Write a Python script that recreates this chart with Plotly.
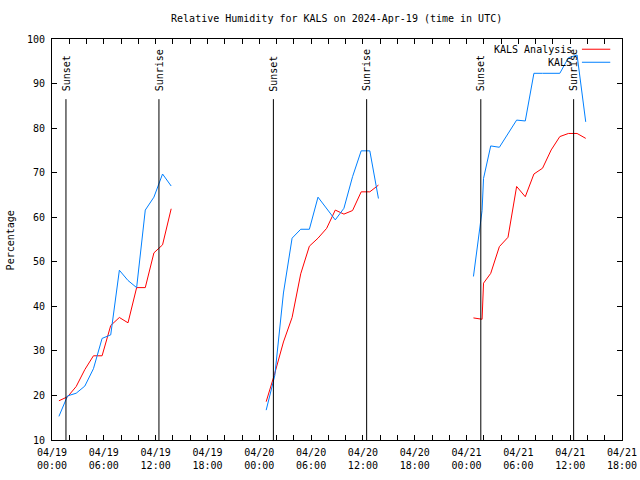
import plotly.graph_objects as go

# ---------------- data ----------------
times_day1 = ["2024-04-19 00:48", "2024-04-19 01:48", "2024-04-19 02:48", "2024-04-19 03:48",
              "2024-04-19 04:48", "2024-04-19 05:48", "2024-04-19 06:48", "2024-04-19 07:48",
              "2024-04-19 08:48", "2024-04-19 09:48", "2024-04-19 10:48", "2024-04-19 11:48",
              "2024-04-19 12:48", "2024-04-19 13:48"]
times_day2 = ["2024-04-20 00:48", "2024-04-20 01:48", "2024-04-20 02:48", "2024-04-20 03:48",
              "2024-04-20 04:48", "2024-04-20 05:48", "2024-04-20 06:48", "2024-04-20 07:48",
              "2024-04-20 08:48", "2024-04-20 09:48", "2024-04-20 10:48", "2024-04-20 11:48",
              "2024-04-20 12:48", "2024-04-20 13:48"]
times_day3 = ["2024-04-21 00:48", "2024-04-21 01:48", "2024-04-21 01:58", "2024-04-21 02:48",
              "2024-04-21 03:48", "2024-04-21 04:48", "2024-04-21 05:48", "2024-04-21 06:48",
              "2024-04-21 07:48", "2024-04-21 08:48", "2024-04-21 09:48", "2024-04-21 10:48",
              "2024-04-21 11:48", "2024-04-21 12:48", "2024-04-21 13:48"]

analysis_day1 = [18.8, 19.7, 22.0, 25.8, 28.9, 28.9, 35.7, 37.5, 36.3, 44.2, 44.2, 52.0, 53.8, 61.9]
analysis_day2 = [18.6, 25.0, 32.0, 37.5, 47.3, 53.5, 55.3, 57.5, 61.6, 60.7, 61.5, 65.7, 65.7, 67.2]
analysis_day3 = [37.4, 37.1, 45.2, 47.4, 53.4, 55.5, 66.9, 64.6, 69.7, 71.0, 75.1, 78.1, 78.8, 78.8, 77.7]

obs_day1 = [15.3, 19.9, 20.5, 22.1, 26.0, 32.8, 33.6, 48.1, 45.8, 44.2, 61.6, 64.5, 69.7, 67.0]
obs_day2 = [16.7, 24.5, 43.0, 55.3, 57.3, 57.3, 64.5, 62.0, 59.4, 62.0, 69.1, 74.9, 74.9, 64.2]
obs_day3 = [46.7, 61.5, 68.7, 76.0, 75.7, 78.8, 81.8, 81.6, 92.3, 92.3, 92.3, 92.3, 95.8, 96.4, 81.4]

sunset_times = ["2024-04-19 01:37", "2024-04-20 01:38", "2024-04-21 01:39"]
sunrise_times = ["2024-04-19 12:23", "2024-04-20 12:26", "2024-04-21 12:24"]

series_names = ["KALS Analysis", "KALS"]
series_colors = ["#ff0000", "#0080ff"]

x_tick_vals = ["2024-04-19 %02d:00" % h for h in range(0, 24, 2)] + \
              ["2024-04-20 %02d:00" % h for h in range(0, 24, 2)] + \
              ["2024-04-21 %02d:00" % h for h in range(0, 20, 2)]
x_label_map = {
    "2024-04-19 00:00": "04/19<br>00:00", "2024-04-19 06:00": "04/19<br>06:00",
    "2024-04-19 12:00": "04/19<br>12:00", "2024-04-19 18:00": "04/19<br>18:00",
    "2024-04-20 00:00": "04/20<br>00:00", "2024-04-20 06:00": "04/20<br>06:00",
    "2024-04-20 12:00": "04/20<br>12:00", "2024-04-20 18:00": "04/20<br>18:00",
    "2024-04-21 00:00": "04/21<br>00:00", "2024-04-21 06:00": "04/21<br>06:00",
    "2024-04-21 12:00": "04/21<br>12:00", "2024-04-21 18:00": "04/21<br>18:00",
}
x_tick_text = [x_label_map.get(v, "") for v in x_tick_vals]

title_text = "Relative Humidity for KALS on 2024-Apr-19 (time in UTC)"
y_title = "Percentage"

# ---------------- figure ----------------
FONT = "DejaVu Sans Mono"
fig = go.Figure()

def joined(parts_t, parts_v):
    xs, ys = [], []
    for i, (t, v) in enumerate(zip(parts_t, parts_v)):
        if i:
            xs.append(None)
            ys.append(None)
        xs += t
        ys += v
    return xs, ys

ax, ay = joined([times_day1, times_day2, times_day3], [analysis_day1, analysis_day2, analysis_day3])
ox, oy = joined([times_day1, times_day2, times_day3], [obs_day1, obs_day2, obs_day3])

fig.add_trace(go.Scatter(x=ax, y=ay, mode="lines", name=series_names[0],
                         line=dict(color=series_colors[0], width=1), connectgaps=False))
fig.add_trace(go.Scatter(x=ox, y=oy, mode="lines", name=series_names[1],
                         line=dict(color=series_colors[1], width=1), connectgaps=False))

shapes = []
annotations = []
for label, tl in (("Sunset", sunset_times), ("Sunrise", sunrise_times)):
    for t in tl:
        shapes.append(dict(type="line", xref="x", yref="y", x0=t, x1=t, y0=10, y1=86.5,
                           line=dict(color="black", width=1)))
        annotations.append(dict(x=t, y=87.8, xref="x", yref="y", text=label, showarrow=False,
                                textangle=-90, xanchor="center", yanchor="bottom",
                                font=dict(family=FONT, size=10, color="black")))

# legend drawn gnuplot-style (text right-aligned, sample on the right)
leg_y = [0.9745, 0.9420]
for name, col, yy in zip(series_names, series_colors, leg_y):
    annotations.append(dict(x=0.9150, y=yy, xref="paper", yref="paper", text=name,
                            showarrow=False, xanchor="right", yanchor="middle",
                            font=dict(family=FONT, size=10, color="black")))
    shapes.append(dict(type="line", xref="paper", yref="paper", x0=0.9297, x1=0.9794,
                       y0=yy, y1=yy, line=dict(color=col, width=1)))

# y-axis title placed like gnuplot's
annotations.append(dict(x=-0.0725, y=0.497, xref="paper", yref="paper", text=y_title,
                        showarrow=False, textangle=-90, xanchor="center", yanchor="middle",
                        font=dict(family=FONT, size=10, color="black")))

fig.update_layout(
    width=640, height=480,
    margin=dict(l=52, r=18, t=39, b=40, pad=0, autoexpand=False),
    paper_bgcolor="white", plot_bgcolor="white",
    showlegend=False,
    font=dict(family=FONT, size=10, color="black"),
    title=dict(text=title_text, x=0.526, xanchor="center", y=0.962, yanchor="middle",
               font=dict(family=FONT, size=10, color="black")),
    shapes=shapes, annotations=annotations,
)
fig.update_xaxes(
    type="date", range=["2024-04-19 00:00", "2024-04-21 18:00"],
    tickmode="array", tickvals=x_tick_vals, ticktext=x_tick_text,
    ticks="inside", ticklen=5, tickcolor="black", tickwidth=1,
    showline=True, linecolor="black", linewidth=1, mirror="ticks",
    showgrid=False, zeroline=False, tickangle=0, automargin=False,
    ticklabelstandoff=3,
    tickfont=dict(family=FONT, size=10, color="black"),
)
fig.update_yaxes(
    range=[10, 100], tickmode="linear", tick0=10, dtick=10,
    ticks="inside", ticklen=5, tickcolor="black", tickwidth=1,
    showline=True, linecolor="black", linewidth=1, mirror="ticks",
    showgrid=False, zeroline=False, automargin=False,
    ticklabelstandoff=4,
    tickfont=dict(family=FONT, size=10, color="black"),
)

fig.write_html("out.html", config={"displayModeBar": False},
               post_script="document.body.style.margin='0';")
